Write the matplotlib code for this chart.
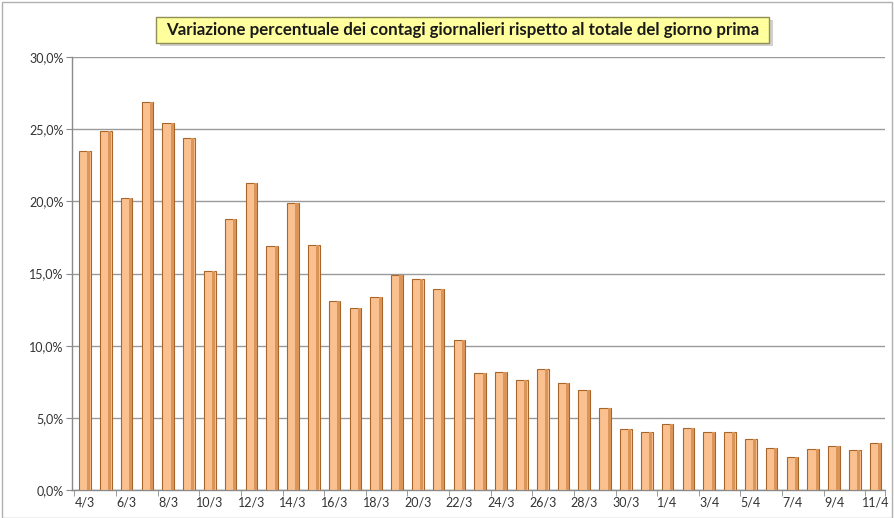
import matplotlib
matplotlib.use("Agg")
import matplotlib.pyplot as plt
from matplotlib.patches import Rectangle
from matplotlib.ticker import FuncFormatter, FixedLocator

dates = ["4/3", "5/3", "6/3", "7/3", "8/3", "9/3", "10/3", "11/3", "12/3", "13/3",
         "14/3", "15/3", "16/3", "17/3", "18/3", "19/3", "20/3", "21/3", "22/3", "23/3",
         "24/3", "25/3", "26/3", "27/3", "28/3", "29/3", "30/3", "31/3", "1/4", "2/4",
         "3/4", "4/4", "5/4", "6/4", "7/4", "8/4", "9/4", "10/4", "11/4"]
values = [23.5, 24.9, 20.2, 26.9, 25.4, 24.4, 15.2, 18.75, 21.3, 16.9,
          19.9, 17.0, 13.1, 12.6, 13.4, 14.9, 14.65, 13.95, 10.4, 8.1,
          8.2, 7.6, 8.4, 7.4, 6.9, 5.7, 4.2, 4.0, 4.6, 4.3,
          4.0, 4.05, 3.5, 2.9, 2.3, 2.85, 3.05, 2.8, 3.25]
title = "Variazione percentuale dei contagi giornalieri rispetto al totale del giorno prima"

plt.rcParams['font.family'] = ['Lato', 'DejaVu Sans']

fig = plt.figure(figsize=(8.95, 5.18), dpi=100)
fig.patch.set_facecolor('white')
ax = fig.add_axes([72/895, 28/518, 813/895, 433/518])

x = list(range(len(values)))
ax.bar(x, values, width=0.56, color='#FAC08F', edgecolor='#A8652A', linewidth=0.8, zorder=3)
# darker right side to mimic the 3D look
ax.bar([i + 0.19 for i in x], values, width=0.15, color='#D9955A', linewidth=0, zorder=4)

ax.set_xlim(-0.62, 38.45)
ax.set_ylim(0, 30)
ax.set_yticks([0, 5, 10, 15, 20, 25, 30])
ax.yaxis.set_major_formatter(FuncFormatter(lambda v, p: f"{v:.1f}%".replace('.', ',')))
ax.grid(axis='y', color='#9A9A9A', linewidth=1.0, zorder=0)

ax.set_xticks(x[::2])
ax.set_xticklabels(dates[::2])
ax.xaxis.set_minor_locator(FixedLocator([i - 0.5 for i in x[::2]] + [38.45]))
ax.tick_params(axis='x', which='major', length=0, labelsize=9, colors='#333333', pad=5)
ax.tick_params(axis='x', which='minor', length=4, color='#8A8A8A')
ax.tick_params(axis='y', length=4, color='#8A8A8A', labelsize=9, labelcolor='#333333', pad=2)

for s in ['top', 'right']:
    ax.spines[s].set_visible(False)
for s in ['left', 'bottom']:
    ax.spines[s].set_color('#8A8A8A')
    ax.spines[s].set_linewidth(1.0)

# title box with shadow
fig.patches.append(Rectangle((160/895, 1 - 46/518), 613/895, 26/518, transform=fig.transFigure,
                             facecolor='#BDBDBD', edgecolor='none', alpha=0.7, zorder=1))
fig.patches.append(Rectangle((156/895, 1 - 43/518), 613/895, 26/518, transform=fig.transFigure,
                             facecolor='#FFFF9E', edgecolor='#8E8E55', linewidth=1.0, zorder=2))
fig.text(463/895, 1 - 30/518, title, ha='center', va='center', fontsize=12.2,
         fontweight='bold', color='#1A1A1A', zorder=3)

# outer frame
fig.patches.append(Rectangle((2/895, 0), 890/895, 516/518, transform=fig.transFigure,
                             facecolor='none', edgecolor='#B0B0B0', linewidth=1.0, zorder=0))

fig.savefig("out.png", dpi=100)
